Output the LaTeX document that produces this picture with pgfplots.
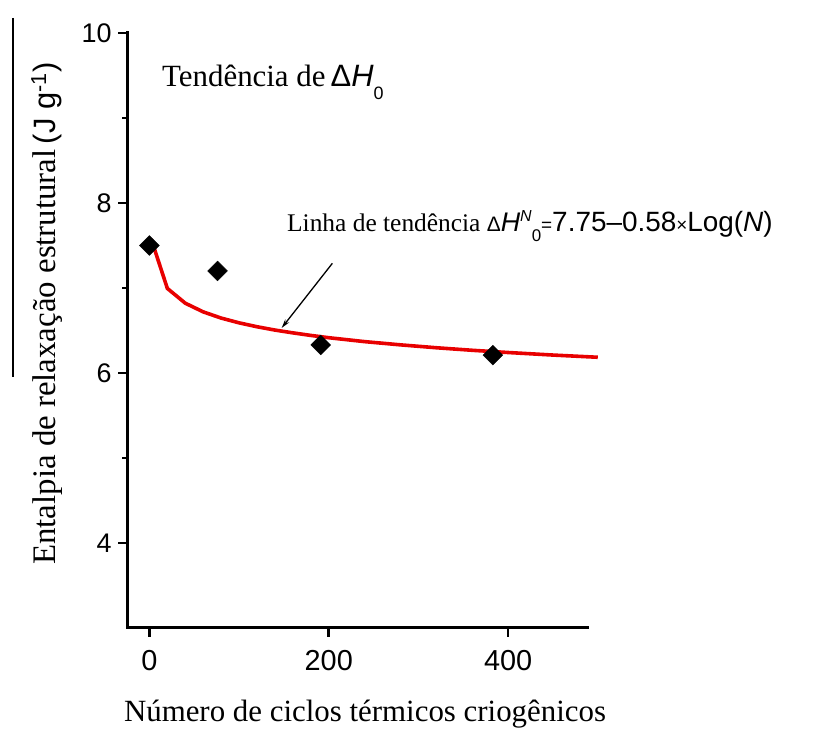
\documentclass[border=0pt]{standalone}
\usepackage{fontspec}
\setmainfont{Liberation Serif}
\newfontfamily\arial{Liberation Sans}
\usepackage{pgfplots}
\pgfplotsset{compat=1.18}
\usetikzlibrary{arrows.meta}

\definecolor{trendred}{RGB}{232,0,0}

\begin{document}
\begin{tikzpicture}[x=1bp,y=1bp]
\path[use as bounding box] (0,0) rectangle (834,731);
\begin{axis}[
  at={(127bp,103bp)}, anchor=south west,
  scale only axis, width=460bp, height=595bp,
  xmin=-25, xmax=488, ymin=3, ymax=10,
  axis x line*=bottom, axis y line*=left,
  every outer x axis line/.append style={line width=3bp, black, line cap=rect},
  every outer y axis line/.append style={line width=3bp, black, line cap=rect},
  xtick={0,200,400}, ytick={4,6,8,10}, minor ytick={5,7,9},
  tick align=outside,
  major tick length=9bp, minor tick length=5bp,
  tick style={line width=2.6bp, black},
  major tick style={line width=2.6bp, black},
  minor tick style={line width=2.2bp, black},
  /pgf/number format/assume math mode=true,
  xticklabel style={font=\arial\fontsize{29}{29}\selectfont, yshift=-10bp},
  yticklabel style={font=\arial\fontsize{27}{27}\selectfont, xshift=-3bp},
  clip=false,
]
% measured enthalpy values
\addplot[only marks, mark=square*, mark size=7bp,
  mark options={rotate=45, fill=black, draw=black}]
  coordinates {(0,7.5) (76,7.2) (191,6.33) (383,6.21)};
% logarithmic trend line, sampled values
\addplot[trendred, line width=3.6bp, no marks] coordinates {
  (2,7.575) (20,6.995) (40,6.821) (60,6.719) (80,6.646) (100,6.590)
  (120,6.544) (140,6.505) (160,6.472) (180,6.442) (200,6.415)
  (240,6.369) (280,6.331) (320,6.297) (360,6.267) (400,6.241)
  (450,6.211) (500,6.185)};
\draw[-{Stealth[length=9bp,width=5bp]}, line width=1.3bp]
  (axis cs:204,7.29) -- (axis cs:147.5,6.53);
\end{axis}

% annotations
\node[anchor=base west, inner sep=0] at (162,644)
  {\fontsize{31}{31}\selectfont Tendência de\,{\arial\fontsize{31}{31}\selectfont Δ\textit{H}\raisebox{-13bp}{\fontsize{18}{18}\selectfont 0}}};
\node[anchor=base west, inner sep=0] at (287,499)
  {\fontsize{25.5}{25.5}\selectfont Linha de tendência {\arial\fontsize{21}{21}\selectfont Δ\fontsize{27}{27}\selectfont\textit{H}\raisebox{10bp}{\fontsize{16}{16}\selectfont\textit{N}}\raisebox{-10bp}{\fontsize{17}{17}\selectfont 0}\fontsize{19}{19}\selectfont=\fontsize{28}{28}\selectfont 7.75–0.58{\fontsize{19}{19}\selectfont×}Log(\textit{N})}};

% axis titles
\node[anchor=base, inner sep=0] at (365,9)
  {\fontsize{31}{31}\selectfont Número de ciclos térmicos criogênicos};
\node[anchor=base west, inner sep=0, rotate=90] at (55,166)
  {\fontsize{33}{33}\selectfont Entalpia de relaxação estrutural\,{\arial\fontsize{31}{31}\selectfont(J g\textsuperscript{-1})}};
\draw[line width=1.4bp] (13,713) -- (13,354);
\end{tikzpicture}
\end{document}
